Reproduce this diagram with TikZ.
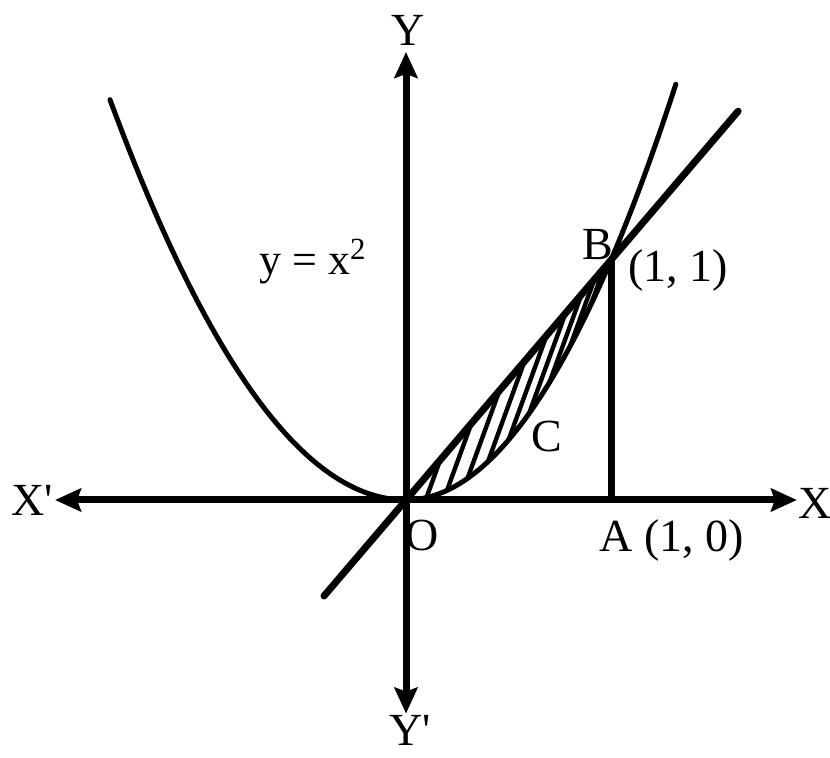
\documentclass[tikz,border=0pt]{standalone}
\usepackage{fontspec}
\setmainfont{Liberation Serif}
\usepackage{tikz}
\usetikzlibrary{arrows.meta}

\begin{document}
\begin{tikzpicture}[
    x=102.5pt, y=120pt,
    ax/.style={{Stealth[length=13pt,width=11.5pt,inset=2pt]}-{Stealth[length=13pt,width=11.5pt,inset=2pt]}, line width=3.5pt},
    curve/.style={line width=2.5pt, line cap=round},
    chord/.style={line width=3.5pt, line cap=round},
    hatch/.style={line width=2.2pt, line cap=round},
    txt/.style={font=\fontsize{23}{23}\selectfont, inner sep=0pt},
]
\useasboundingbox (-1.9805,-1.075) rectangle (2.0683,2.0833);
\coordinate (O) at (0,0);
\coordinate (A) at (1,0);
\coordinate (B) at (1,1);
\coordinate (Xl) at (-1.712,0);
\coordinate (Xr) at (1.907,0);
\coordinate (Yt) at (0,1.867);
\coordinate (Yb) at (0,-0.89);
\coordinate (Ll) at (-0.4,-0.4);
\coordinate (Lr) at (1.62,1.62);
% axes
\draw[ax] (Xl) -- (Xr);
\draw[ax] (Yb) -- (Yt);
% curve y = x^2
\draw[curve] plot[domain=-1.444:0, samples=60, smooth] (\x, {0.8*\x*\x});
\draw[curve] plot[domain=0:1.317, samples=60, smooth] (\x, {\x*\x});
% line through O and B
\draw[chord] (Ll) -- (Lr);
\draw[line width=3.5pt] (A) -- (B);
% shading between line and curve
\foreach \a/\b in {0.1/0.167, 0.2/0.319, 0.3/0.456, 0.4/0.578, 0.5/0.686, 0.6/0.778, 0.7/0.856, 0.8/0.919, 0.9/0.967} {
  \draw[hatch] (\a, {\a*\a}) -- (\b, \b);
}
% labels
\node[txt] (lXl) at (-1.824,0) {X\textquotesingle};
\node[txt] (lXr) at (1.995,-0.0125) {X};
\node[txt] (lYt) at (0.01,1.958) {Y};
\node[txt] (lYb) at (0.02,-0.96) {Y\textquotesingle};
\node[txt] (lO) at (0.078,-0.146) {O};
\node[txt] (lA) at (1.298,-0.167) {A (1, 0)};
\node[txt] (lB) at (0.937,1.0625) {B};
\node[txt] (lBc) at (1.327,0.958) {(1, 1)};
\node[txt] (lC) at (0.688,0.2625) {C};
\node[txt, font=\fontsize{22}{22}\selectfont] (lcurve) at (-0.454,0.992) {y = x\textsuperscript{2}};
\end{tikzpicture}
\end{document}
